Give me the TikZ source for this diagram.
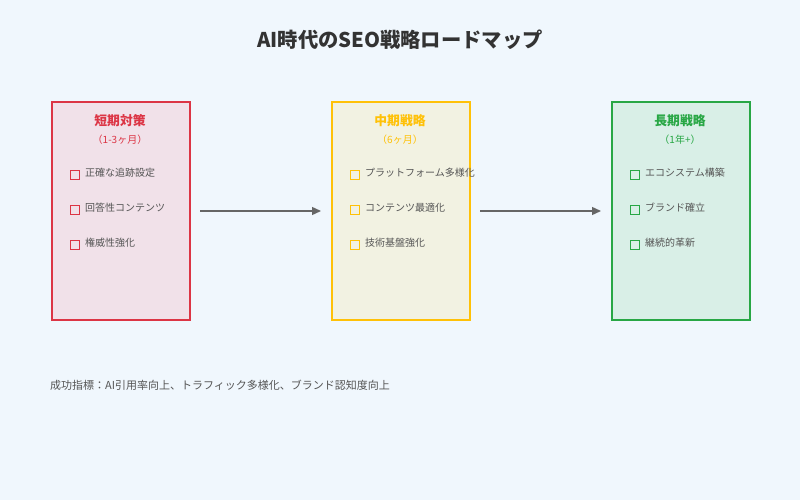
\documentclass[tikz,border=0pt]{standalone}
\usepackage{fontspec}
\setmainfont{Noto Sans CJK JP}
\usetikzlibrary{arrows.meta}
\definecolor{bg}{HTML}{F0F7FD}
\definecolor{cr}{HTML}{DC3545}\definecolor{fr}{HTML}{F1E1E9}
\definecolor{cy}{HTML}{FFC107}\definecolor{fy}{HTML}{F2F2E2}
\definecolor{cg}{HTML}{28A745}\definecolor{fg}{HTML}{D9EFE7}
\definecolor{tx}{HTML}{555555}\definecolor{ar}{HTML}{666666}
\tikzset{x=1pt,y=-1pt,
 phase/.style={draw=#1,line width=1.6pt,minimum width=138pt,minimum height=218pt,inner sep=0pt},
 ttl/.style={font=\fontsize{12.8}{15}\selectfont\bfseries,text=#1},
 sub/.style={font=\fontsize{10}{12}\selectfont,text=#1},
 cb/.style={draw=#1,line width=0.8pt,minimum size=9pt,inner sep=0pt},
 item/.style={font=\fontsize{10}{12}\selectfont,text=tx,anchor=west,inner sep=0pt},
 conn/.style={draw=ar,line width=1.4pt,-{Triangle[length=9pt,width=8pt]}}}
\begin{document}
\begin{tikzpicture}
\fill[bg] (0,0) rectangle (800,500);
\useasboundingbox (0,0) rectangle (800,500);
\node[font=\fontsize{20.3}{24}\selectfont\bfseries,text=black!80] (title) at (400,40) {AI時代のSEO戦略ロードマップ};
\foreach \n/\x/\c/\f/\t/\s/\a/\b/\d in {
 a/51/cr/fr/短期対策/（1-3ヶ月）/正確な追跡設定/回答性コンテンツ/権威性強化,
 b/331/cy/fy/中期戦略/（6ヶ月）/プラットフォーム多様化/コンテンツ最適化/技術基盤強化,
 c/611/cg/fg/長期戦略/（1年+）/エコシステム構築/ブランド確立/継続的革新}{
 \node[phase=\c,fill=\f,anchor=north west] (\n) at (\x,101) {};
 \node[ttl=\c] (\n t) at (\x+69,121) {\t};
 \node[sub=\c] (\n s) at (\x+69,140) {\s};
 \node[cb=\c] (\n c1) at (\x+24,175) {};
 \node[item] (\n i1) at (\x+34,173) {\a};
 \node[cb=\c] (\n c2) at (\x+24,210) {};
 \node[item] (\n i2) at (\x+34,208) {\b};
 \node[cb=\c] (\n c3) at (\x+24,245) {};
 \node[item] (\n i3) at (\x+34,243) {\d};
}
\coordinate (p1) at (200,211);\coordinate (p2) at (321,211);
\coordinate (p3) at (480,211);\coordinate (p4) at (601,211);
\draw[conn] (p1) -- (p2);
\draw[conn] (p3) -- (p4);
\node[font=\fontsize{11}{13}\selectfont,text=tx,anchor=west,inner sep=0pt] (foot) at (50,385) {成功指標：AI引用率向上、トラフィック多様化、ブランド認知度向上};
\end{tikzpicture}
\end{document}
